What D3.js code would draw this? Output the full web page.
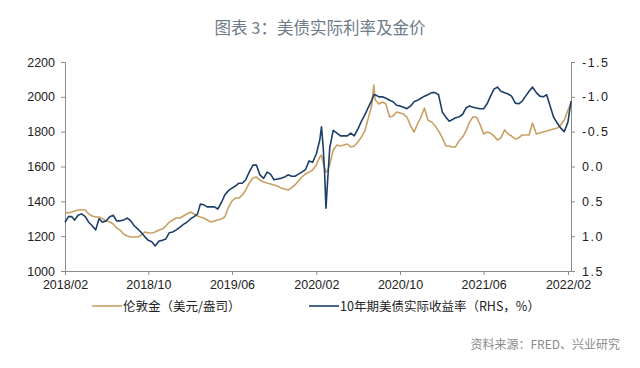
<!DOCTYPE html>
<html>
<head>
<meta charset="utf-8">
<script src="https://cdn.jsdelivr.net/npm/d3@7"></script>
<style>
  body { margin: 0; background: #fff; }
  svg { display: block; font-family: "Liberation Sans", Arial, sans-serif; }
</style>
</head>
<body>
<svg width="640" height="368"></svg>
<script>
// dates shared by both series
const dates = [
  "2018-02-01","2018-02-11","2018-02-21","2018-03-01","2018-03-11","2018-03-21","2018-04-01","2018-04-11","2018-04-21",
  "2018-05-01","2018-05-11","2018-05-21","2018-06-01","2018-06-11","2018-06-21","2018-07-01","2018-07-11","2018-07-21",
  "2018-08-01","2018-08-11","2018-08-21","2018-09-01","2018-09-11","2018-09-21","2018-10-01","2018-10-11","2018-10-21",
  "2018-11-01","2018-11-11","2018-11-21","2018-12-01","2018-12-11","2018-12-21",
  "2019-01-01","2019-01-11","2019-01-21","2019-02-01","2019-02-11","2019-02-21","2019-03-01","2019-03-11","2019-03-21",
  "2019-04-01","2019-04-11","2019-04-21","2019-05-01","2019-05-11","2019-05-21","2019-06-01","2019-06-11","2019-06-21",
  "2019-07-01","2019-07-11","2019-07-21","2019-08-01","2019-08-11","2019-08-21","2019-09-01","2019-09-11","2019-09-21",
  "2019-10-01","2019-10-11","2019-10-21","2019-11-01","2019-11-11","2019-11-21","2019-12-01","2019-12-11","2019-12-21",
  "2020-01-01","2020-01-11","2020-01-21","2020-02-01","2020-02-11","2020-02-16","2020-02-21","2020-02-25","2020-02-29",
  "2020-03-04","2020-03-11","2020-03-21","2020-04-01","2020-04-11","2020-04-21","2020-05-01","2020-05-11","2020-05-21",
  "2020-06-01","2020-06-11","2020-06-21","2020-07-01","2020-07-11","2020-07-17","2020-07-21","2020-08-01","2020-08-11",
  "2020-08-21","2020-09-01","2020-09-11","2020-09-21","2020-10-01","2020-10-11","2020-10-21","2020-11-01","2020-11-11",
  "2020-11-21","2020-12-01","2020-12-11","2020-12-21",
  "2021-01-01","2021-01-11","2021-01-21","2021-02-01","2021-02-11","2021-02-21","2021-03-01","2021-03-11","2021-03-21",
  "2021-04-01","2021-04-11","2021-04-21","2021-05-01","2021-05-11","2021-05-21","2021-06-01","2021-06-11","2021-06-21",
  "2021-07-01","2021-07-11","2021-07-21","2021-08-01","2021-08-11","2021-08-21","2021-09-01","2021-09-11","2021-09-21",
  "2021-10-01","2021-10-11","2021-10-21","2021-11-01","2021-11-11","2021-11-21","2021-12-01","2021-12-11","2021-12-21",
  "2022-01-01","2022-01-11","2022-01-21","2022-02-01","2022-02-05","2022-02-10"
];

// London gold, USD/oz (left axis)
const gold = [
  1339,1333,1339,1344,1350,1350,1350,1327,1316,
  1310,1310,1299,1287,1281,1270,1247,1235,1212,
  1201,1195,1195,1195,1207,1224,1218,1218,1224,
  1235,1241,1258,1281,1293,1304,
  1304,1316,1327,1339,1327,1316,1310,1304,1293,
  1281,1287,1293,1299,1310,1362,1402,1419,1419,
  1436,1465,1505,1534,1540,1522,1511,1505,1500,
  1494,1488,1477,1471,1465,1477,1494,1517,1540,
  1557,1568,1580,1609,1655,1666,1620,1591,1568,
  1574,1609,1695,1723,1718,1723,1729,1712,1718,
  1741,1769,1804,1878,1953,2068,1982,1959,1970,
  1959,1884,1890,1913,1907,1901,1884,1833,1798,
  1844,1884,1936,1867,
  1855,1833,1804,1764,1718,1718,1712,1712,1746,
  1769,1804,1855,1884,1884,1844,1787,1798,1792,
  1775,1752,1764,1810,1787,1775,1758,1764,1781,
  1781,1781,1850,1787,1792,1798,1804,1810,1815,
  1821,1838,1867,1924,1942,1965
];

// 10Y US real yield, % (right axis, reversed)
const realYield = [
  0.80,0.72,0.72,0.77,0.70,0.68,0.72,0.80,0.85,
  0.91,0.75,0.80,0.78,0.72,0.70,0.78,0.78,0.77,
  0.74,0.78,0.85,0.90,0.95,1.01,1.06,1.08,1.14,
  1.07,1.06,1.04,0.95,0.94,0.91,
  0.87,0.83,0.80,0.75,0.72,0.68,0.54,0.55,0.58,
  0.58,0.58,0.61,0.52,0.41,0.35,0.31,0.28,0.24,
  0.24,0.19,0.08,-0.02,-0.02,0.12,0.17,0.08,0.11,
  0.19,0.18,0.17,0.15,0.12,0.14,0.14,0.11,0.08,
  0.04,-0.08,-0.06,-0.18,-0.38,-0.57,-0.27,0.08,0.60,
  0.27,-0.27,-0.52,-0.48,-0.44,-0.44,-0.44,-0.48,-0.44,
  -0.54,-0.65,-0.74,-0.85,-0.95,-1.03,-1.03,-1.00,-1.00,
  -0.98,-0.95,-0.93,-0.88,-0.87,-0.85,-0.83,-0.87,-0.93,
  -0.95,-0.98,-1.01,-1.03,
  -1.06,-1.06,-1.03,-0.78,-0.71,-0.65,-0.67,-0.70,-0.71,
  -0.75,-0.84,-0.87,-0.85,-0.84,-0.83,-0.83,-0.90,-1.01,
  -1.11,-1.14,-1.08,-1.06,-1.04,-1.01,-0.91,-0.90,-0.94,
  -1.01,-1.08,-1.14,-1.06,-1.01,-1.00,-1.03,-0.87,-0.71,
  -0.62,-0.55,-0.50,-0.64,-0.78,-0.94
];

const xTicks = ["2018-02-01","2018-10-01","2019-06-01","2020-02-01","2020-10-01","2021-06-01","2022-02-01"];
const leftTicks = [1000,1200,1400,1600,1800,2000,2200];
const rightTicks = [-1.5,-1.0,-0.5,0.0,0.5,1.0,1.5];

const title = "图表 3：美债实际利率及金价";
const goldName = "伦敦金（美元/盎司）";
const yieldName = "10年期美债实际收益率（RHS，%）";
const source = "资料来源：FRED、兴业研究";

const goldColor = "#c8a064";
const blueColor = "#1c3f69";
const axisColor = "#8c8c8c";

const svg = d3.select("svg");
const parse = d3.timeParse("%Y-%m-%d");
const fmt = d3.timeFormat("%Y/%m");

const margin = {left: 65, right: 571, top: 62, bottom: 271};

const x = d3.scaleTime()
  .domain([parse("2018-02-01"), parse("2022-02-01")])
  .range([margin.left, 568]);
const yL = d3.scaleLinear().domain([1000, 2200]).range([margin.bottom, margin.top]);
const yR = d3.scaleLinear().domain([1.5, -1.5]).range([margin.bottom, margin.top]);

const rows = dates.map((d, i) => ({date: parse(d), gold: gold[i], ry: realYield[i]}));

// title
svg.append("text")
  .attr("x", 320).attr("y", 34)
  .attr("text-anchor", "middle")
  .attr("font-family", "'Noto Sans CJK SC', sans-serif")
  .attr("font-size", 16.5)
  .attr("fill", "#6f7b88")
  .text(title);

// left axis
const axL = svg.append("g")
  .attr("transform", `translate(${margin.left},0)`)
  .call(d3.axisLeft(yL).tickValues(leftTicks).tickSize(4).tickPadding(6).tickFormat(d3.format("d")));

// right axis
const axR = svg.append("g")
  .attr("transform", `translate(${margin.right},0)`)
  .call(d3.axisRight(yR).tickValues(rightTicks).tickSize(4).tickPadding(7).tickFormat(d3.format(".1f")));

// bottom axis
const axB = svg.append("g")
  .attr("transform", `translate(0,${margin.bottom})`)
  .call(d3.axisBottom(x).tickValues(xTicks.map(parse)).tickSize(4).tickPadding(5).tickFormat(fmt));
axB.select(".domain").attr("d", `M${margin.left},0.5H${margin.right}`);

[axL, axR, axB].forEach(a => {
  a.select(".domain").attr("stroke", axisColor);
  a.selectAll(".tick line").attr("stroke", axisColor);
  a.selectAll(".tick text").attr("fill", "#222").attr("font-size", 12.5);
});
axR.selectAll(".tick text").attr("letter-spacing", 1.5).text(d => d3.format(".1f")(d).replace("−", "-"));

// lines
const goldLine = d3.line().x(d => x(d.date)).y(d => yL(d.gold));
const yieldLine = d3.line().x(d => x(d.date)).y(d => yR(d.ry));

svg.append("path").datum(rows)
  .attr("fill", "none").attr("stroke", goldColor).attr("stroke-width", 1.6)
  .attr("stroke-linejoin", "round")
  .attr("d", goldLine);

svg.append("path").datum(rows)
  .attr("fill", "none").attr("stroke", blueColor).attr("stroke-width", 1.6)
  .attr("stroke-linejoin", "round")
  .attr("d", yieldLine);

// legend
const legend = [
  {name: goldName, color: goldColor, x: 92},
  {name: yieldName, color: blueColor, x: 309}
];
const lg = svg.append("g").selectAll("g").data(legend).enter().append("g")
  .attr("transform", d => `translate(${d.x},306)`);
lg.append("line").attr("x1", 0).attr("x2", 30).attr("y1", 0).attr("y2", 0)
  .attr("stroke", d => d.color).attr("stroke-width", 1.6);
lg.append("text").attr("x", 31).attr("y", 4.5)
  .attr("font-family", "'Noto Sans CJK SC', sans-serif")
  .attr("font-size", 12.5).attr("fill", "#222")
  .text(d => d.name);

// source
svg.append("text")
  .attr("x", 620).attr("y", 349)
  .attr("text-anchor", "end")
  .attr("font-family", "'Noto Sans CJK SC', sans-serif")
  .attr("font-size", 12)
  .attr("fill", "#8a8a8a")
  .text(source);
</script>
</body>
</html>
